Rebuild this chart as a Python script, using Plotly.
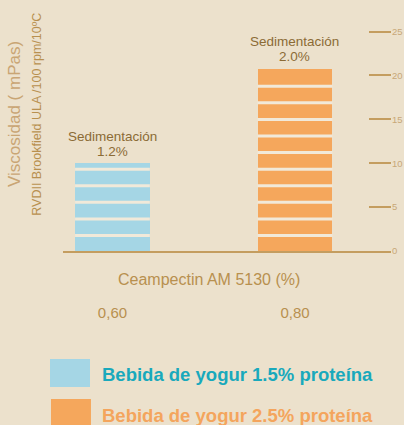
import plotly.graph_objects as go

# ---- data ----
categories = ["0,60", "0,80"]
viscosity = [10.0, 20.75]
series_names = ["Bebida de yogur 1.5% proteína", "Bebida de yogur 2.5% proteína"]
sedimentation = ["1.2%", "2.0%"]
y_ticks = [0, 5, 10, 15, 20, 25]

# ---- style ----
BG = "#ece1cc"
GAP = "#f1e9d9"
BAR_COLORS = ["#a5d6e5", "#f5a75c"]
TEXT_COLORS = ["#19a9bc", "#f4a55d"]
TAN = "#c49d5f"
LABEL_TAN = "#b8904f"
FONT = "Arial, Liberation Sans, sans-serif"
BAR_W = 0.41
STRIPE_START = 1.76
STRIPE_STEP = 1.89

fig = go.Figure()
for i, (cat, val) in enumerate(zip(categories, viscosity)):
    fig.add_trace(go.Bar(
        x=[cat], y=[val], width=BAR_W,
        marker=dict(color=BAR_COLORS[i], line=dict(width=0)),
        name=series_names[i], showlegend=False, hoverinfo="skip"))

shapes = []
# horizontal stripes inside bars
for i, val in enumerate(viscosity):
    y = STRIPE_START
    while y < val - 0.3:
        shapes.append(dict(type="line", xref="x", yref="y",
                           x0=i - BAR_W / 2, x1=i + BAR_W / 2,
                           y0=y, y1=y, line=dict(color=GAP, width=3), layer="above"))
        y += STRIPE_STEP

annotations = []
# sedimentation labels above bars
for i, val in enumerate(viscosity):
    annotations.append(dict(x=categories[i], y=val, xref="x", yref="y",
                            text="Sedimentación", showarrow=False,
                            xanchor="center", yanchor="middle", yshift=27,
                            font=dict(family=FONT, size=13.5, color="#8b6b35")))
    annotations.append(dict(x=categories[i], y=val, xref="x", yref="y",
                            text=sedimentation[i], showarrow=False,
                            xanchor="center", yanchor="middle", yshift=12,
                            font=dict(family=FONT, size=13.5, color="#8b6b35")))

# y titles
annotations.append(dict(x=0, y=0.578, xref="paper", yref="paper", xshift=-49,
                        xanchor="center", yanchor="middle",
                        text="Viscosidad ( mPas)", textangle=-90, showarrow=False,
                        font=dict(family=FONT, size=17, color="#c9a574")))
annotations.append(dict(x=0, y=0.575, xref="paper", yref="paper", xshift=-26,
                        xanchor="center", yanchor="middle",
                        text="RVDII Brookfield ULA /100 rpm/10ºC", textangle=-90,
                        showarrow=False,
                        font=dict(family=FONT, size=12.5, color=LABEL_TAN)))
# x title
annotations.append(dict(x=(209 - 63) / 328, y=(251 - 279) / 237, xref="paper", yref="paper",
                        xanchor="center", yanchor="middle",
                        text="Ceampectin AM 5130 (%)", showarrow=False,
                        font=dict(family=FONT, size=16, color=LABEL_TAN)))

# custom legend
leg_boxes = [(-0.0396, 0.0823, (251 - 387) / 237, (251 - 359) / 237),
             (-0.0366, 0.0853, (251 - 430) / 237, (251 - 399) / 237)]
leg_text_y = [(251 - 374) / 237, (251 - 415) / 237]
for i in range(2):
    x0, x1, y0, y1 = leg_boxes[i]
    shapes.append(dict(type="rect", xref="paper", yref="paper", x0=x0, x1=x1, y0=y0, y1=y1,
                       fillcolor=BAR_COLORS[i], line=dict(width=0)))
    annotations.append(dict(x=(100 - 63) / 328, y=leg_text_y[i], xref="paper", yref="paper",
                            xanchor="left", yanchor="middle",
                            text="<b>" + series_names[i] + "</b>",
                            showarrow=False,
                            font=dict(family=FONT, size=18.5, color=TEXT_COLORS[i])))

fig.update_layout(
    width=404, height=425,
    margin=dict(l=63, r=13, t=14, b=174),
    paper_bgcolor=BG, plot_bgcolor=BG,
    shapes=shapes, annotations=annotations,
    bargap=0,
    xaxis=dict(type="category", categoryorder="array", categoryarray=categories,
               range=[-0.271, 1.526], showline=True, linecolor=TAN, linewidth=2,
               ticks="", showgrid=False, zeroline=False, ticklabelstandoff=47,
               automargin=False,
               tickfont=dict(family=FONT, size=15, color=LABEL_TAN), fixedrange=True),
    yaxis=dict(side="right", range=[0, 27], tickvals=y_ticks, ticks="inside",
               ticklen=22, tickwidth=2, tickcolor=TAN, showline=False, showgrid=False,
               zeroline=False, automargin=False,
               tickfont=dict(family=FONT, size=9.5, color="#c8a878"),
               fixedrange=True),
)

fig.write_html("out.html", config={"displayModeBar": False},
               post_script="document.body.style.margin='0';document.body.style.background='%s';" % BG)
